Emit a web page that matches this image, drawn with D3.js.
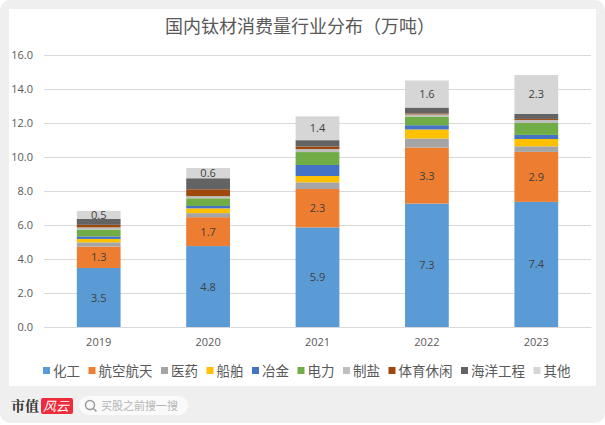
<!DOCTYPE html>
<html><head><meta charset="utf-8">
<script src="https://cdn.jsdelivr.net/npm/d3@7"></script>
<style>html,body{margin:0;padding:0;background:#fff}svg{display:block}text{font-family:"Noto Sans CJK SC","Noto Sans",sans-serif}</style>
</head><body><svg id="c" width="605" height="425"></svg>
<script>
const years = ["2019","2020","2021","2022","2023"];
const seriesNames = ["化工","航空航天","医药","船舶","冶金","电力","制盐","体育休闲","海洋工程","其他"];
const colors = ["#5b9bd5","#ed7d31","#a5a5a5","#ffc000","#4472c4","#70ad47","#bfbfbf","#9e480e","#636363","#d6d6d6"];
const huagong   = [3.47,4.76,5.86,7.26,7.36];
const hangkong  = [1.26,1.70,2.26,3.30,2.94];
const yiyao     = [0.25,0.24,0.39,0.53,0.33];
const chuanbo   = [0.20,0.28,0.37,0.53,0.43];
const yejin     = [0.15,0.14,0.65,0.25,0.24];
const dianli    = [0.40,0.45,0.76,0.51,0.70];
const zhiyan    = [0.13,0.13,0.18,0.12,0.18];
const tiyu      = [0.15,0.40,0.15,0.06,0.06];
const haiyang   = [0.35,0.65,0.37,0.35,0.30];
const qita      = [0.47,0.60,1.40,1.59,2.28];
const allSeries = [huagong,hangkong,yiyao,chuanbo,yejin,dianli,zhiyan,tiyu,haiyang,qita];
const labelled = ["化工","航空航天","其他"];
const yTicks = [0,2,4,6,8,10,12,14,16];
const titleText = "国内钛材消费量行业分布\uFF08万吨\uFF09";

const svg = d3.select("#c");
svg.append("rect").attr("width",605).attr("height",423).attr("rx",10).attr("fill","#efefef");
svg.append("rect").attr("x",9).attr("y",9).attr("width",587).attr("height",377).attr("fill","#fff");

const x = d3.scaleBand().domain(years).range([44,591]).paddingInner(0.6).paddingOuter(0.3);
const y = d3.scaleLinear().domain([0,16]).range([327,55]);

svg.append("text").attr("x",300).attr("y",33).attr("text-anchor","middle")
  .attr("font-size",18).attr("fill","#595959").text(titleText);

const yAxis = d3.axisLeft(y).tickValues(yTicks).tickFormat(d3.format(".1f")).tickSize(-547).tickPadding(11);
const gy = svg.append("g").attr("transform","translate(44,0)").call(yAxis);
gy.select(".domain").remove();
gy.selectAll("line").attr("stroke","#d9d9d9").attr("stroke-width",1);
gy.selectAll("text").attr("fill","#595959").attr("font-size",11)
  .style("font-family","'Open Sans',sans-serif");

const xAxis = d3.axisBottom(x).tickSize(0).tickPadding(11);
const gx = svg.append("g").attr("transform","translate(0,327)").call(xAxis);
gx.select(".domain").attr("stroke","#d9d9d9");
gx.selectAll("text").attr("fill","#595959").attr("font-size",11)
  .style("font-family","'Open Sans',sans-serif");

const table = years.map((yr,i)=>{const o={year:yr};seriesNames.forEach((s,k)=>o[s]=allSeries[k][i]);return o;});
const stacked = d3.stack().keys(seriesNames)(table);
const layers = svg.append("g").selectAll("g").data(stacked).join("g")
  .attr("fill",(d,i)=>colors[i]);
layers.selectAll("rect").data(d=>d).join("rect")
  .attr("x",d=>x(d.data.year)).attr("width",x.bandwidth())
  .attr("y",d=>y(d[1])).attr("height",d=>y(d[0])-y(d[1]));

const lab = svg.append("g").attr("text-anchor","middle").attr("font-size",11).attr("fill","#404040")
  .style("font-family","'Open Sans',sans-serif");
stacked.filter(s=>labelled.includes(s.key)).forEach(s=>{
  lab.selectAll(null).data(s).join("text")
    .attr("x",d=>x(d.data.year)+x.bandwidth()/2)
    .attr("y",d=>y((d[0]+d[1])/2)+4)
    .style("font-family","'Open Sans',sans-serif")
    .text(d=>d3.format(".1f")(d[1]-d[0]));
});

let lx = 43;
seriesNames.forEach((n,i)=>{
  svg.append("rect").attr("x",lx).attr("y",367).attr("width",7).attr("height",7).attr("fill",colors[i]);
  svg.append("text").attr("x",lx+10).attr("y",375.5).attr("font-size",13.5).attr("fill","#595959").text(n);
  lx += 18.5 + 13.5*n.length;
});

svg.append("text").attr("x",11).attr("y",411).attr("font-size",14).attr("font-weight",700)
  .attr("fill","#333").style("font-family","'Noto Serif CJK SC','Noto Sans CJK SC'").text("市值");
svg.append("rect").attr("x",41).attr("y",398).attr("width",32).attr("height",16).attr("rx",2).attr("fill","#ee2b3b");
svg.append("text").attr("x",43).attr("y",411).attr("font-size",13).attr("font-style","italic")
  .attr("fill","#fff").text("风云");
svg.append("rect").attr("x",79).attr("y",396).attr("width",109).attr("height",19).attr("rx",9.5).attr("fill","#fafafa");
svg.append("circle").attr("cx",90).attr("cy",405).attr("r",4.5).attr("fill","none").attr("stroke","#999").attr("stroke-width",1.5);
svg.append("line").attr("x1",93.5).attr("y1",408.5).attr("x2",96.5).attr("y2",411.5).attr("stroke","#999").attr("stroke-width",1.5);
svg.append("text").attr("x",101).attr("y",410).attr("font-size",11).attr("fill","#b5b5b5").text("买股之前搜一搜");
</script></body></html>
